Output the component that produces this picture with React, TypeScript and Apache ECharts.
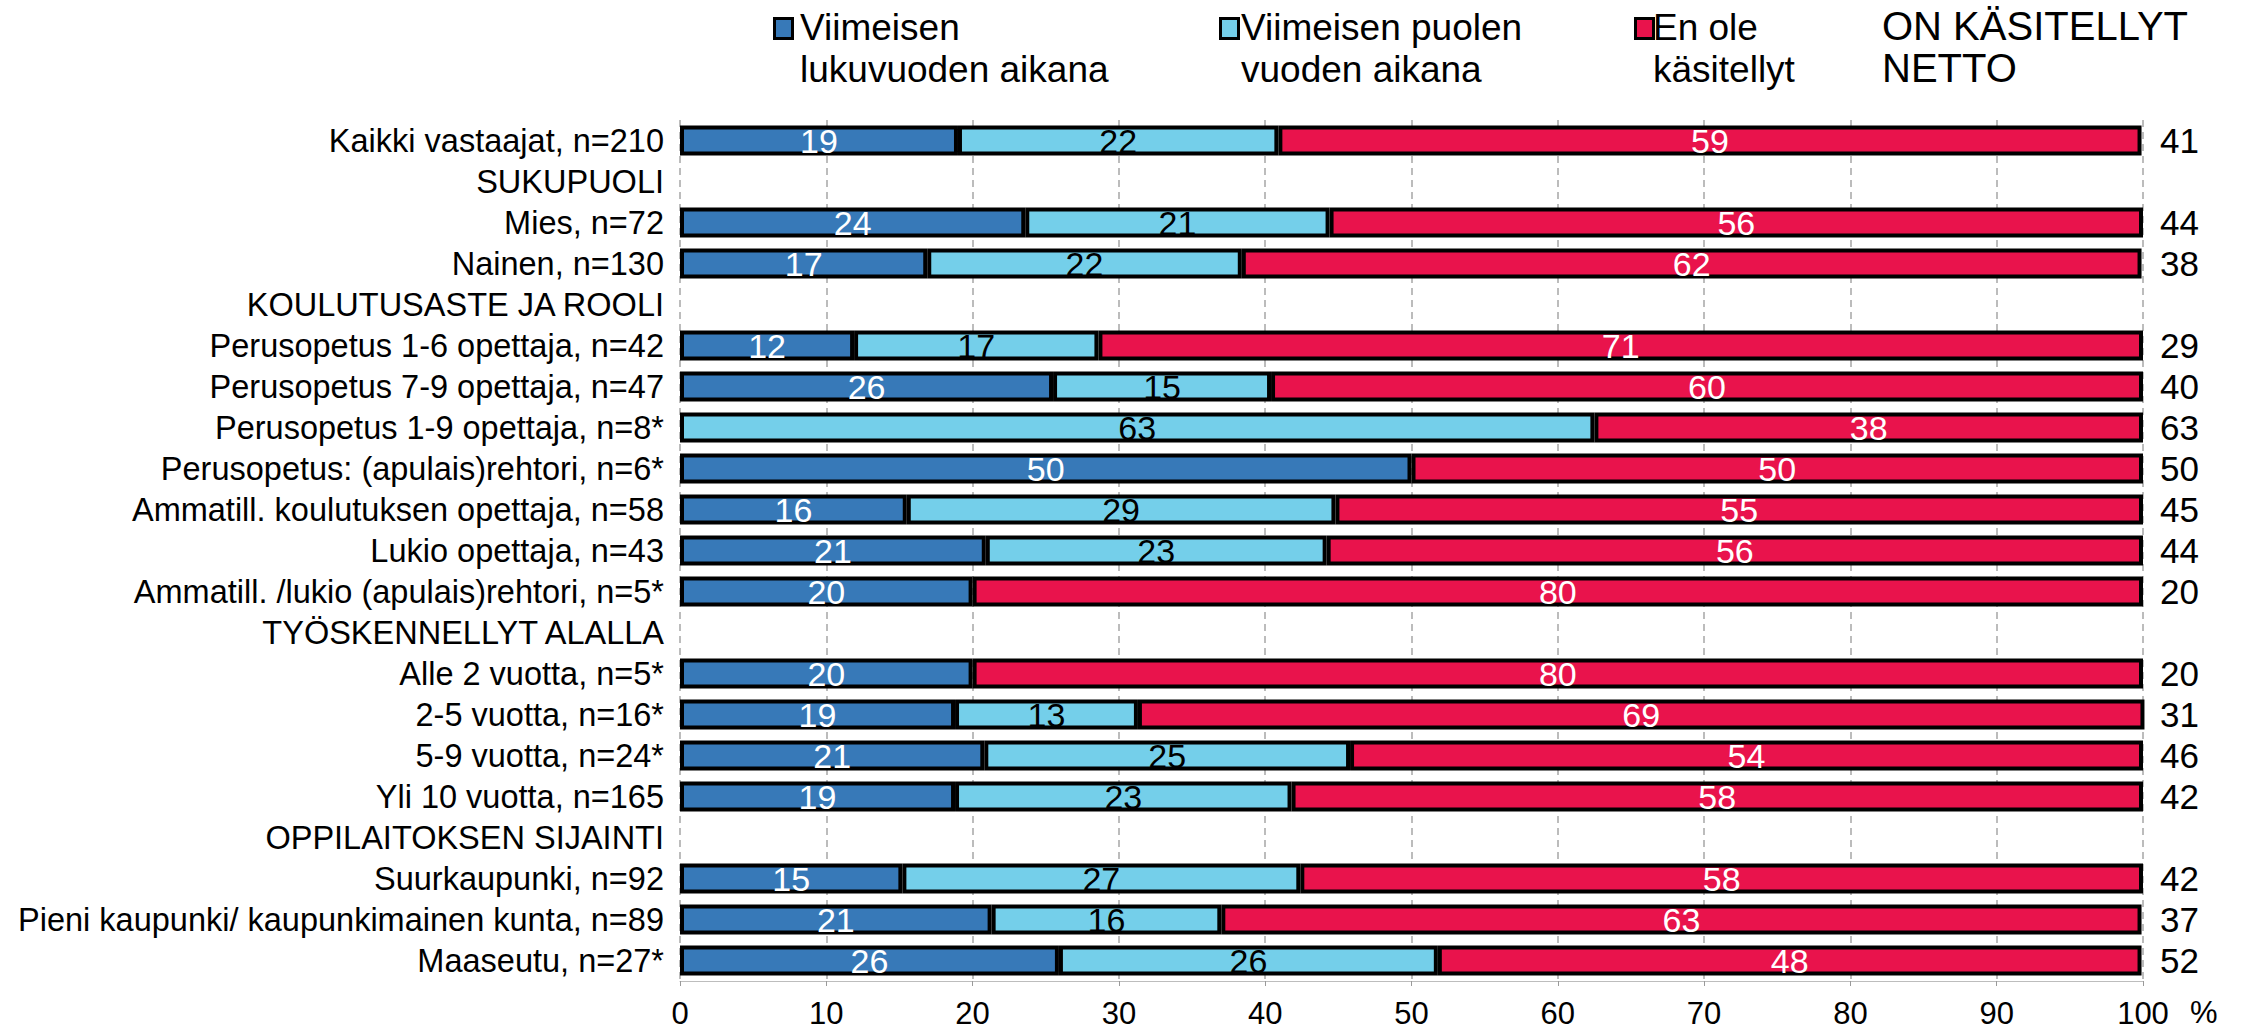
import React, { useEffect, useRef } from "react";
import * as echarts from "echarts";

const categories: string[] = [
  "Kaikki vastaajat, n=210",
  "SUKUPUOLI",
  "Mies, n=72",
  "Nainen, n=130",
  "KOULUTUSASTE JA ROOLI",
  "Perusopetus 1-6 opettaja, n=42",
  "Perusopetus 7-9 opettaja, n=47",
  "Perusopetus 1-9 opettaja, n=8*",
  "Perusopetus: (apulais)rehtori, n=6*",
  "Ammatill. koulutuksen opettaja, n=58",
  "Lukio opettaja, n=43",
  "Ammatill. /lukio (apulais)rehtori, n=5*",
  "TYÖSKENNELLYT ALALLA",
  "Alle 2 vuotta, n=5*",
  "2-5 vuotta, n=16*",
  "5-9 vuotta, n=24*",
  "Yli 10 vuotta, n=165",
  "OPPILAITOKSEN SIJAINTI",
  "Suurkaupunki, n=92",
  "Pieni kaupunki/ kaupunkimainen kunta, n=89",
  "Maaseutu, n=27*",
];

const lastYear: (number | null)[] = [
  19.0, null, 23.6, 16.9, null, 11.9, 25.5, null, 50, 15.5, 20.9, 20, null, 20, 18.8, 20.8, 18.8, null, 15.2, 21.3, 25.9,
];
const lastHalfYear: (number | null)[] = [
  21.9, null, 20.8, 21.5, null, 16.7, 14.9, 62.5, null, 29.3, 23.3, null, null, null, 12.5, 25.0, 23.0, null, 27.2, 15.7, 25.9,
];
const notHandled: (number | null)[] = [
  59.0, null, 55.6, 61.5, null, 71.4, 59.6, 37.5, 50, 55.2, 55.8, 80, null, 80, 68.8, 54.2, 58.2, null, 57.6, 62.9, 48.1,
];
const netto: string[] = [
  "41", "", "44", "38", "", "29", "40", "63", "50", "45", "44", "20", "", "20", "31", "46", "42", "", "42", "37", "52",
];

const seriesNames = [
  "Viimeisen\nlukuvuoden aikana",
  "Viimeisen puolen\nvuoden aikana",
  "En ole\nkäsitellyt",
];
const nettoTitle = "ON KÄSITELLYT\nNETTO";
const xTicks = { min: 0, max: 100, interval: 10 };

const COLORS = ["#3779b8", "#74cfea", "#e9134c"];
const LABEL_COLORS = ["#ffffff", "#000000", "#ffffff"];
const FONT = "'Liberation Sans', Arial, sans-serif";

export default function App() {
  const ref = useRef<HTMLDivElement>(null);

  useEffect(() => {
    if (!ref.current) return;
    const chart = echarts.init(ref.current, undefined, { renderer: "svg" });

    const datasets = [lastYear, lastHalfYear, notHandled];
    const series = datasets.map((arr, i) => ({
      name: seriesNames[i],
      type: "bar",
      stack: "total",
      barWidth: 30,
      data: arr.map((v) => (v === null ? null : v)),
      itemStyle: {
        color: COLORS[i],
        borderColor: "#000000",
        borderWidth: 4,
      },
      label: {
        show: true,
        position: "inside",
        color: LABEL_COLORS[i],
        fontSize: 34,
        fontFamily: FONT,
        formatter: (p: any) =>
          p.value === null || p.value === undefined || p.value === 0 ? "" : String(Math.round(p.value)),
      },
    }));

    const legendItems = [
      { x: 773, tx: 800 },
      { x: 1219, tx: 1241 },
      { x: 1634, tx: 1653 },
    ];

    const graphic: any[] = [];
    legendItems.forEach((it, i) => {
      graphic.push({
        type: "rect",
        left: it.x,
        top: 17,
        shape: { width: 18, height: 20 },
        style: { fill: COLORS[i], stroke: "#000", lineWidth: 3 },
      });
      graphic.push({
        type: "text",
        left: it.tx,
        top: 6,
        style: {
          text: seriesNames[i],
          font: `37px ${FONT}`,
          fill: "#000",
          lineHeight: 42,
        },
      });
    });
    graphic.push({
      type: "text",
      left: 1882,
      top: 5,
      style: { text: nettoTitle, font: `40px ${FONT}`, fill: "#000", lineHeight: 42 },
    });
    graphic.push({
      type: "text",
      left: 2190,
      top: 997,
      style: { text: "%", font: `31px ${FONT}`, fill: "#000" },
    });

    chart.setOption({
      animation: false,
      backgroundColor: "#ffffff",
      textStyle: { fontFamily: FONT },
      grid: { left: 680, right: 104, top: 120, bottom: 52, containLabel: false },
      xAxis: {
        type: "value",
        min: xTicks.min,
        max: xTicks.max,
        interval: xTicks.interval,
        axisLine: { show: true, lineStyle: { color: "#bdbdbd", width: 1 } },
        axisTick: { show: true, length: 5, lineStyle: { color: "#9a9a9a" } },
        axisLabel: { fontSize: 31, color: "#000", margin: 17, fontFamily: FONT },
        splitLine: {
          show: true,
          lineStyle: { color: "#a6a6a6", type: [7, 5], width: 1.5 },
        },
      },
      yAxis: [
        {
          type: "category",
          data: categories,
          inverse: true,
          axisLine: { show: false },
          axisTick: { show: false },
          axisLabel: { interval: 0, fontSize: 32.5, color: "#000", margin: 16, fontFamily: FONT },
        },
        {
          type: "category",
          data: netto,
          inverse: true,
          position: "right",
          axisLine: { show: false },
          axisTick: { show: false },
          axisLabel: { interval: 0, fontSize: 35, color: "#000", margin: 17, fontFamily: FONT, align: "left" },
        },
      ],
      series,
      graphic,
    });

    return () => chart.dispose();
  }, []);

  return (
    <div
      ref={ref}
      style={{ position: "fixed", left: 0, top: 0, width: 2247, height: 1033, background: "#fff" }}
    />
  );
}
